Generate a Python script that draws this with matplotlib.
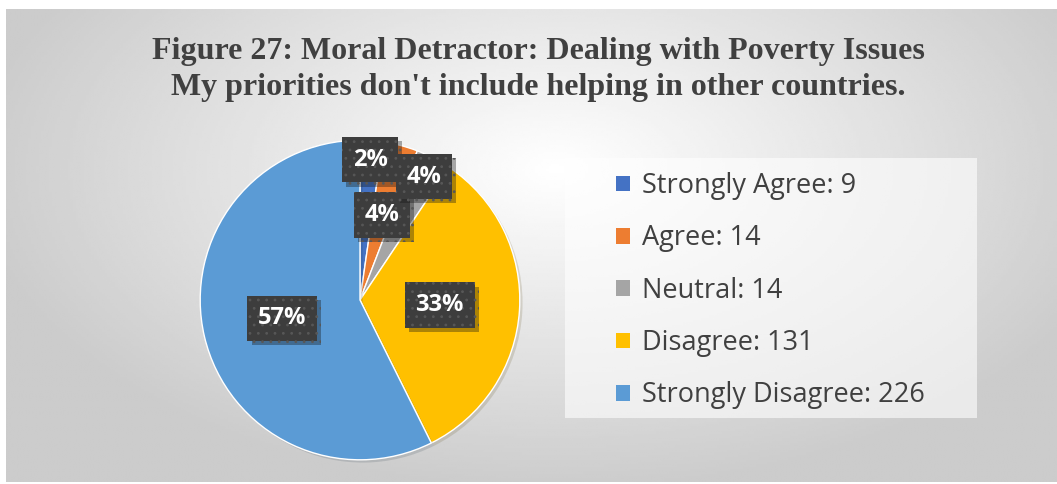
import numpy as np
import matplotlib.pyplot as plt
from matplotlib.patches import Patch, Rectangle
import matplotlib.patheffects as pe

labels = ["Strongly Agree", "Agree", "Neutral", "Disagree", "Strongly Disagree"]
counts = [9, 14, 14, 131, 226]
colors = ["#4472C4", "#ED7D31", "#A5A5A5", "#FFC000", "#5B9BD5"]
title_lines = ["Figure 27: Moral Detractor: Dealing with Poverty Issues",
               "My priorities don't include helping in other countries."]

plt.rcParams["hatch.linewidth"] = 0.8

W, H = 1057, 484
fig = plt.figure(figsize=(W / 100, H / 100), dpi=100, facecolor="white")

# grey radial backdrop
bg = fig.add_axes([6 / W, 2 / H, (W - 6) / W, (H - 11) / H])
gx, gy = np.meshgrid(np.linspace(0, W - 6, 400), np.linspace(0, H - 11, 200))
d = np.sqrt(((gx - 550) / 580) ** 2 + ((gy - 160) / 320) ** 2)
d = np.clip(d, 0, 1)
shade = 1.0 - 0.2 * d
bg.imshow(shade, cmap="gray", vmin=0, vmax=1, aspect="auto",
          extent=[0, W - 6, H - 11, 0], interpolation="bilinear")
bg.set_axis_off()

fig.text(538 / W, 1 - 51 / H, title_lines[0], ha="center", va="center",
         family="Liberation Serif", weight="bold", fontsize=23, color="#404040")
fig.text(538 / W, 1 - 87 / H, title_lines[1], ha="center", va="center",
         family="Liberation Serif", weight="bold", fontsize=23, color="#404040")

# pie
cx, cy, r = 360, 300, 163
ax = fig.add_axes([(cx - r) / W, (H - cy - r) / H, 2 * r / W, 2 * r / H])
wedges, _ = ax.pie(counts, colors=colors, startangle=90, counterclock=False,
                   radius=1.0, wedgeprops=dict(linewidth=1.0, edgecolor="white"))
for w in wedges:
    w.set_path_effects([pe.SimplePatchShadow(offset=(2, -2), alpha=0.15), pe.Normal()])
ax.set_xlim(-1.02, 1.02)
ax.set_ylim(-1.02, 1.02)
ax.set_aspect("equal")
ax.set_axis_off()

total = sum(counts)
label_r = [0.88, 0.55, 0.87, 0.5, 0.5]
for w, c, lr in zip(wedges, counts, label_r):
    ang = np.deg2rad((w.theta1 + w.theta2) / 2)
    t = ax.text(lr * np.cos(ang), lr * np.sin(ang), f"{round(100 * c / total)}%",
                ha="center", va="center", color="white", weight="bold",
                family="Open Sans", fontsize=17,
                bbox=dict(boxstyle="square,pad=0.45", fc="#3d3d3d",
                          ec="#575757", hatch="..", lw=0))
    t.get_bbox_patch().set_path_effects(
        [pe.SimplePatchShadow(offset=(3, -3), alpha=0.35), pe.Normal()])

# legend
fig.patches.append(Rectangle((565 / W, 1 - 418 / H), 412 / W, 260 / H,
                             transform=fig.transFigure, fc="white", alpha=0.6,
                             ec="none", zorder=1))
handles = [Patch(facecolor=col, edgecolor="none") for col in colors]
leg_labels = [f"{l}: {c}" for l, c in zip(labels, counts)]
fig.legend(handles, leg_labels, loc="upper left",
           bbox_to_anchor=(616 / W, 1 - 172 / H), frameon=False,
           prop=dict(family="Open Sans", size=19.5), labelcolor="#404040",
           handlelength=0.52, handleheight=0.52, handletextpad=0.45,
           labelspacing=0.9, borderaxespad=0, borderpad=0)

fig.savefig("out.png", dpi=100, facecolor="white")
